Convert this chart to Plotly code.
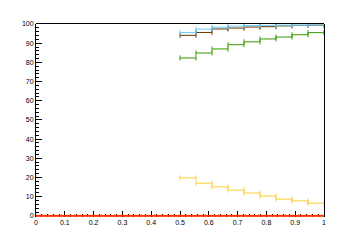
import plotly.graph_objects as go

# bin edges (9 bins from 0.5 to 1.0)
bin_edges = [0.5, 0.5556, 0.6111, 0.6667, 0.7222, 0.7778, 0.8333, 0.8889, 0.9444, 1.0]

blue_values = [95.6, 97.3, 98.3, 98.9, 99.2, 99.3, 99.4, 99.4, 99.5]
brown_values = [94.1, 95.6, 97.4, 97.9, 98.4, 98.6, 99.0, 99.3, 99.4]
green_values = [82.3, 84.9, 87.0, 89.2, 90.7, 92.2, 93.2, 94.4, 95.5]
orange_values = [19.8, 17.0, 15.1, 13.4, 11.9, 10.3, 8.7, 7.8, 6.6]

# red baseline histogram over full range
red_edges = [i / 10 for i in range(11)]
red_values = [0.0] * 10

x_tick_vals = [i / 10 for i in range(11)]
x_tick_text = ["0", "0.1", "0.2", "0.3", "0.4", "0.5", "0.6", "0.7", "0.8", "0.9", "1"]
y_tick_vals = list(range(0, 101, 10))
y_tick_text = [str(v) for v in y_tick_vals]


def hist_trace(edges, values, color, caps=2.5, thick=1.0):
    centers = [(edges[i] + edges[i + 1]) / 2 for i in range(len(values))]
    halfw = [(edges[i + 1] - edges[i]) / 2 for i in range(len(values))]
    return go.Scatter(
        x=centers, y=values, mode="markers",
        marker=dict(size=1, color=color, opacity=0),
        error_x=dict(type="data", array=halfw, symmetric=True,
                     width=caps, thickness=thick, color=color),
        cliponaxis=False, showlegend=False, hoverinfo="skip",
    )


fig = go.Figure()
fig.add_trace(hist_trace(red_edges, red_values, "#ff3300", caps=0, thick=2))
fig.add_trace(hist_trace(bin_edges, brown_values, "#663300"))
fig.add_trace(hist_trace(bin_edges, green_values, "#339900"))
fig.add_trace(hist_trace(bin_edges, orange_values, "#ffcc33"))
fig.add_trace(hist_trace(bin_edges, blue_values, "#66ccff"))

font = dict(family="Liberation Sans, Arial, sans-serif", size=7, color="black")
plot_h = 240 - 24 - 23

fig.update_layout(
    width=360, height=240,
    margin=dict(l=36, r=36, t=24, b=23),
    paper_bgcolor="white", plot_bgcolor="white",
    font=font,
    xaxis=dict(range=[0, 1], tickvals=x_tick_vals, ticktext=x_tick_text,
               ticks="inside", ticklen=6, tickcolor="black", tickwidth=1,
               minor=dict(dtick=0.02, tick0=0, ticks="inside", ticklen=3, tickcolor="black"),
               showline=False, showgrid=False, zeroline=False, tickfont=font,
               layer="below traces"),
    yaxis=dict(range=[-0.6, 100], tickvals=y_tick_vals, ticktext=y_tick_text,
               ticks="inside", ticklen=6, tickcolor="black", tickwidth=1,
               minor=dict(dtick=2, tick0=0, ticks="inside", ticklen=3, tickcolor="black"),
               showline=True, linecolor="black", linewidth=1, mirror=True,
               showgrid=False, zeroline=False, tickfont=font, layer="below traces"),
    shapes=[dict(type="line", xref="paper", yref="paper", x0=0, x1=1,
                 y0=1 + 0.5 / plot_h, y1=1 + 0.5 / plot_h,
                 line=dict(color="black", width=1), layer="below")],
)

fig.write_html("out.html")
